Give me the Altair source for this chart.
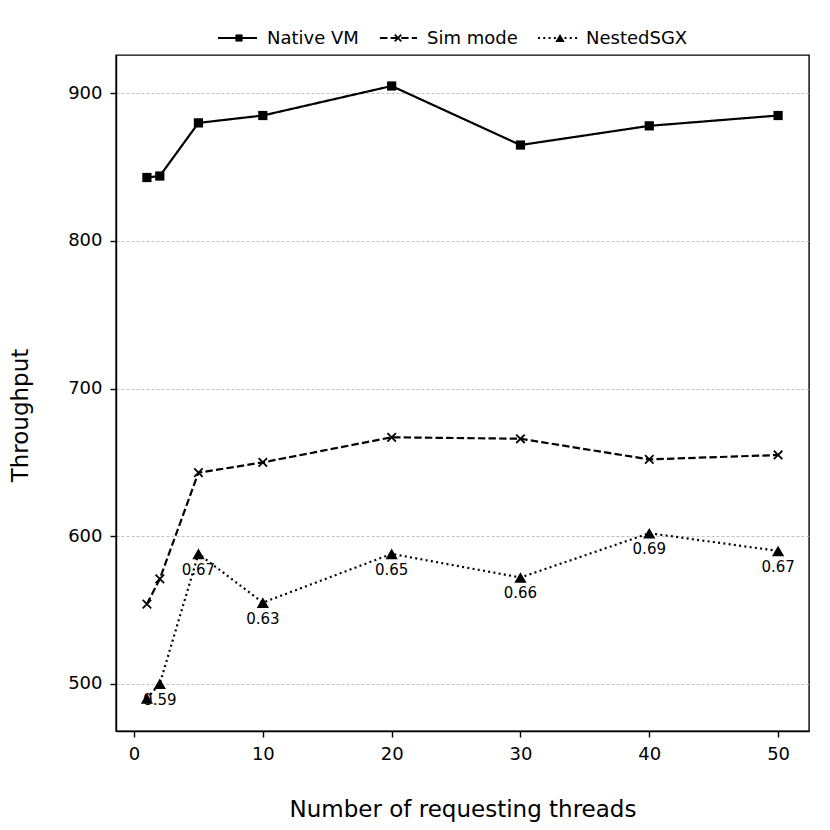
import altair as alt
import pandas as pd

threads = [1, 2, 5, 10, 20, 30, 40, 50]
native_vm = [843, 844, 880, 885, 905, 865, 878, 885]
sim_mode = [554, 571, 643, 650, 667, 666, 652, 655]
nested_sgx = [490, 500, 588, 555, 588, 572, 602, 590]
ratio_threads = [2, 5, 10, 20, 30, 40, 50]
ratio_labels = ["0.59", "0.67", "0.63", "0.65", "0.66", "0.69", "0.67"]
series_names = ["Native VM", "Sim mode", "NestedSGX"]

FONT = "DejaVu Sans"
W, H = 693, 676

series_values = [native_vm, sim_mode, nested_sgx]
rows = []
for name, vals in zip(series_names, series_values):
    for t, v in zip(threads, vals):
        rows.append({"threads": t, "throughput": v, "series": name})
df = pd.DataFrame(rows)

nested_lookup = dict(zip(threads, nested_sgx))
ann = pd.DataFrame({
    "threads": ratio_threads,
    "throughput": [nested_lookup[t] for t in ratio_threads],
    "label": ratio_labels,
})

xscale = alt.Scale(domain=[-1.4, 52.4], nice=False, zero=False)
yscale = alt.Scale(domain=[468, 926], nice=False, zero=False)

xaxis = alt.Axis(values=[0, 10, 20, 30, 40, 50], grid=False,
                 title="Number of requesting threads",
                 titleY=85, titleBaseline="alphabetic",
                 labelBaseline="alphabetic", labelPadding=22)
yaxis = alt.Axis(values=[500, 600, 700, 800, 900], grid=True,
                 title="Throughput", titleX=-89, titleY=360,
                 titleBaseline="alphabetic", titleAngle=270,
                 labelPadding=8)

X = alt.X("threads:Q", scale=xscale, axis=xaxis)
Y = alt.Y("throughput:Q", scale=yscale, axis=yaxis)

styles = {
    "Native VM": dict(dash=[1, 0], shape="square", size=85, filled=True, sw=1),
    "Sim mode": dict(dash=[7.4, 3.2], shape="M-1,-1L1,1M1,-1L-1,1", size=72, filled=False, sw=1.8),
    "NestedSGX": dict(dash=[2, 3.3], shape="triangle-up", size=150, filled=True, sw=1),
}

layers = []
base = alt.Chart(df)
for name in series_names:
    st = styles[name]
    sub = base.transform_filter(alt.datum.series == name)
    layers.append(sub.mark_line(color="black", strokeWidth=2.2, strokeDash=st["dash"]).encode(x=X, y=Y))
    layers.append(sub.mark_point(shape=st["shape"], size=st["size"], filled=st["filled"],
                                 color="black", opacity=1, strokeWidth=st["sw"]).encode(x=X, y=Y))

layers.append(alt.Chart(ann).mark_text(font=FONT, fontSize=15, color="black",
                                       baseline="alphabetic", dy=21).encode(
    x=alt.X("threads:Q", scale=xscale), y=alt.Y("throughput:Q", scale=yscale), text="label:N"))

# custom legend above the plot (line + marker + label)
legend_pos = {
    "Native VM": (102, 141, 123, 151),
    "Sim mode": (264, 301, 282, 311),
    "NestedSGX": (422, 464, 444, 470),
}
one = alt.Data(values=[{"k": 1}])
for name in series_names:
    st = styles[name]
    x0, x1, xm, xt = legend_pos[name]
    layers.append(alt.Chart(one).mark_rule(color="black", strokeWidth=2.2, strokeDash=st["dash"]).encode(
        x=alt.value(x0), x2=alt.value(x1), y=alt.value(-17)))
    layers.append(alt.Chart(one).mark_point(shape=st["shape"], size=st["size"] * 0.6, filled=st["filled"],
                                            color="black", opacity=1, strokeWidth=st["sw"]).encode(
        x=alt.value(xm), y=alt.value(-17)))
    layers.append(alt.Chart(one).mark_text(font=FONT, fontSize=18, color="black", align="left",
                                           baseline="alphabetic").encode(
        x=alt.value(xt), y=alt.value(-11), text=alt.value(name)))

chart = alt.layer(*layers).properties(
    width=W, height=H,
    background="white",
    autosize=alt.AutoSizeParams(type="none"),
    padding={"left": 108, "top": 47, "right": 13, "bottom": 91},
).configure_view(stroke="black", strokeWidth=1.4).configure_axis(
    labelFont=FONT, labelFontSize=18, labelColor="black",
    titleFont=FONT, titleFontSize=23, titleFontWeight="normal", titleColor="black",
    domainColor="black", domainWidth=1.4, tickColor="black", tickWidth=1.4, tickSize=6,
    gridColor="#b0b0b0", gridDash=[3, 2], gridWidth=0.8,
)

chart.save("out.html", embed_options={"renderer": "svg", "actions": False})
